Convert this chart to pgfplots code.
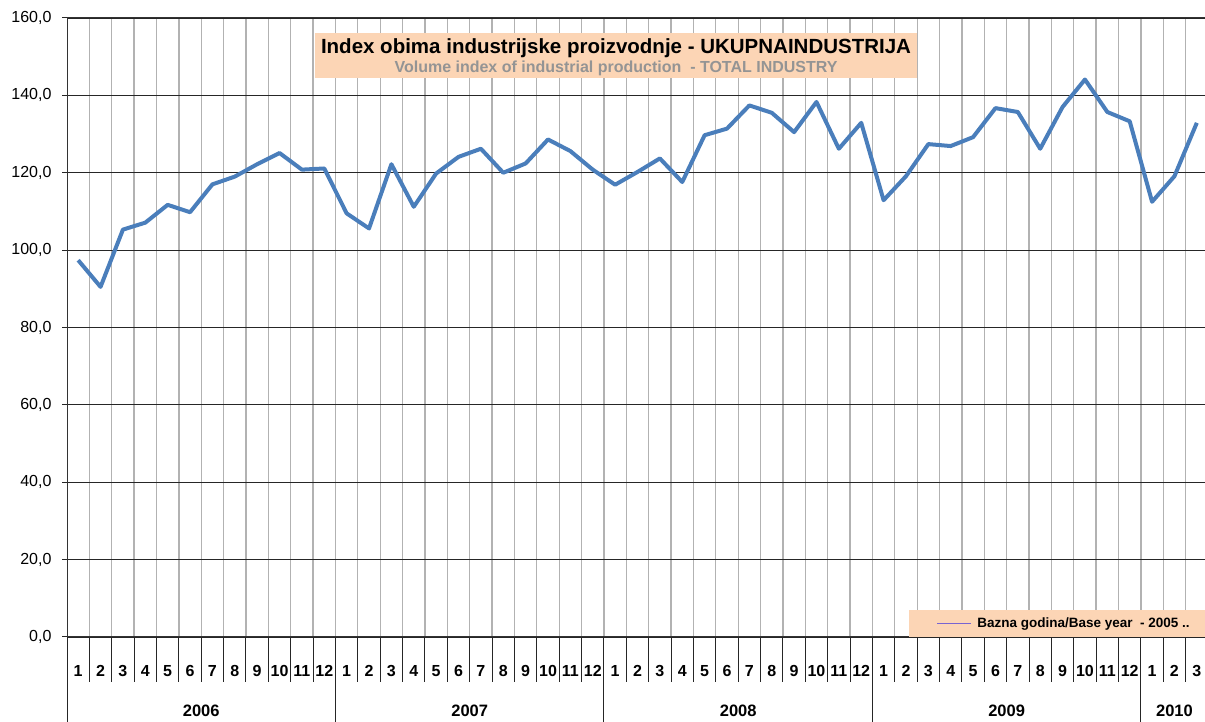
\documentclass[border=0pt]{standalone}
\usepackage{pgfplots}
\pgfplotsset{compat=1.18}
\usepackage{fontspec}
\setmainfont{Liberation Sans}
\definecolor{linec}{RGB}{74,126,187}
\definecolor{peach}{RGB}{252,213,181}
\definecolor{legline}{RGB}{120,100,210}
\begin{document}
\begin{tikzpicture}
\useasboundingbox (0,0) rectangle (1205pt,722pt);
\begin{axis}[
  at={(67pt,85pt)}, anchor=south west,
  scale only axis, width=1141pt, height=619pt,
  xmin=0, xmax=51, ymin=0, ymax=160,
  clip=false,
  axis line style={draw=black!80, line width=1pt},
  ytick={0,20,...,160},
  ymajorgrids,
  major grid style={draw=black!85, line width=1.1pt},
  xtick={0.5,1.5,...,50.5},
  xticklabels={1,2,3,4,5,6,7,8,9,10,11,12,1,2,3,4,5,6,7,8,9,10,11,12,1,2,3,4,5,6,7,8,9,10,11,12,1,2,3,4,5,6,7,8,9,10,11,12,1,2,3},
  minor xtick={1,...,50},
  xminorgrids,
  minor grid style={draw=black!30, line width=1.3pt},
  xtick style={draw=none},
  tick align=outside,
  major tick length=5pt,
  minor tick length=0pt,
  ytick style={draw=black!85, line width=1pt},
  x tick label style={font=\bfseries\fontsize{16}{16}\selectfont, anchor=center, yshift=-29pt},
  y tick label style={font=\fontsize{16}{16}\selectfont, xshift=-7pt},
  yticklabel style={/pgf/number format/.cd, fixed, fixed zerofill, precision=1, use comma, assume math mode=true},
]
\addplot[linec, line width=4pt, line join=round] coordinates {
(0.5,97.4) (1.5,90.5) (2.5,105.3) (3.5,107.1) (4.5,111.7) (5.5,109.8)
(6.5,117.0) (7.5,119.0) (8.5,122.2) (9.5,125.1) (10.5,120.8) (11.5,121.1)
(12.5,109.5) (13.5,105.6) (14.5,122.2) (15.5,111.2) (16.5,119.8) (17.5,124.1)
(18.5,126.2) (19.5,120.0) (20.5,122.4) (21.5,128.6) (22.5,125.6) (23.5,120.8)
(24.5,116.9) (25.5,120.2) (26.5,123.7) (27.5,117.6) (28.5,129.7) (29.5,131.4)
(30.5,137.4) (31.5,135.5) (32.5,130.5) (33.5,138.3) (34.5,126.2) (35.5,132.9)
(36.5,112.9) (37.5,119.1) (38.5,127.4) (39.5,126.9) (40.5,129.2) (41.5,136.7)
(42.5,135.7) (43.5,126.2) (44.5,137.0) (45.5,144.1) (46.5,135.7) (47.5,133.3)
(48.5,112.5) (49.5,119.1) (50.5,132.9)
};
\pgfplotsinvokeforeach{0,...,51}{\draw[black!85, line width=1pt] (axis cs:#1,0) -- ++(0,-45pt);}
\pgfplotsinvokeforeach{0,12,24,36,48,51}{\draw[black!85, line width=1pt] (axis cs:#1,0) -- ++(0,-85pt);}
\node[font=\bfseries\fontsize{16.5}{16.5}\selectfont] at (axis cs:6,0) [yshift=-74pt] {2006};
\node[font=\bfseries\fontsize{16.5}{16.5}\selectfont] at (axis cs:18,0) [yshift=-74pt] {2007};
\node[font=\bfseries\fontsize{16.5}{16.5}\selectfont] at (axis cs:30,0) [yshift=-74pt] {2008};
\node[font=\bfseries\fontsize{16.5}{16.5}\selectfont] at (axis cs:42,0) [yshift=-74pt] {2009};
\node[font=\bfseries\fontsize{16.5}{16.5}\selectfont] at (axis cs:49.5,0) [yshift=-74pt] {2010};
\fill[peach] (axis cs:11.09,144.5) rectangle (axis cs:38.0,156.1);
\node[font=\bfseries\fontsize{20.5}{20.5}\selectfont] at (axis cs:24.54,152.1) {Index obima industrijske proizvodnje - UKUPNAINDUSTRIJA};
\node[font=\bfseries\fontsize{16}{16}\selectfont, text=black!42] at (axis cs:24.54,147.0) {Volume index of industrial production \ - TOTAL INDUSTRY};
\fill[peach] (axis cs:37.64,0) rectangle (axis cs:51,7.0);
\draw[legline, line width=1.2pt] (axis cs:38.89,3.4) -- (axis cs:40.41,3.4);
\node[font=\bfseries\fontsize{13.5}{13.5}\selectfont, anchor=west, inner sep=0pt] at (axis cs:40.68,3.4) {Bazna godina/Base year \ - 2005 ..};
\end{axis}
\end{tikzpicture}
\end{document}
